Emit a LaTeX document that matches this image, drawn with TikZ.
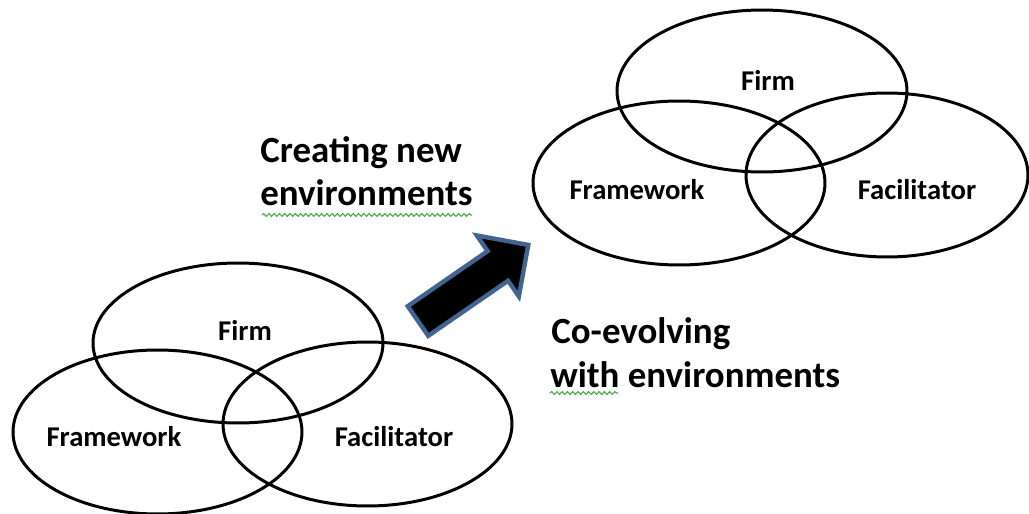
\documentclass[tikz,border=0pt]{standalone}
\usepackage{fontspec}
\setmainfont{Carlito}
\usepackage{tikz}
\usetikzlibrary{shapes.geometric,positioning,calc,decorations.pathmorphing}
\definecolor{arrowedge}{RGB}{65,100,145}
\definecolor{spellgreen}{RGB}{60,170,60}

\begin{document}
\begin{tikzpicture}[x=0.02cm, y=-0.02cm,
 set/.style={draw, ellipse, line width=1.7pt, inner sep=0pt, outer sep=0pt},
 setlabel/.style={font=\bfseries\fontsize{16.3}{19}\selectfont, inner sep=0pt},
 caption/.style={font=\bfseries\fontsize{21}{25}\selectfont, anchor=base west, inner sep=0pt},
 squiggle/.style={spellgreen, line width=0.6pt, decorate,
   decoration={snake, amplitude=0.8pt, segment length=3pt}},
 bigarrow/.style={fill=black, draw=arrowedge, line width=2.5pt, line join=miter}]
\useasboundingbox (0,0) rectangle (1029,514);
% lower venn
\node[set, minimum width=5.8cm, minimum height=3.2cm] (firmA) at (238,343) {};
\node[set, minimum width=5.78cm, minimum height=3.28cm] (frameA) at (157.5,432) {};
\node[set, minimum width=5.78cm, minimum height=3.28cm] (facilA) at (367.5,424) {};
\node[setlabel] (firmAl) at (245,330) {Firm};
\node[setlabel] (frameAl) at (114,437) {Framework};
\node[setlabel] (facilAl) at (394,437) {Facilitator};
% upper venn
\node[set, minimum width=5.8cm, minimum height=3.24cm] (firmB) at (762,91) {};
\node[set, minimum width=5.84cm, minimum height=3.28cm] (frameB) at (679,183) {};
\node[set, minimum width=5.64cm, minimum height=3.28cm] (facilB) at (887,175) {};
\node[setlabel] (firmBl) at (768,80) {Firm};
\node[setlabel] (frameBl) at (637,190) {Framework};
\node[setlabel] (facilBl) at (917,190) {Facilitator};
% captions
\node[caption] (create1) at (260,162) {Creating new};
\node[caption] (create2) at (260,205) {environments};
\node[caption] (coevo1) at (551,343) {Co-evolving};
\node[caption] (coevo2) at (550,387) {with environments};
\draw[squiggle] ($(create2.base west)+(2,10)$) -- ++(210,0);
\draw[squiggle] ($(coevo2.base west)+(0,6)$) -- ++(68,0);
% arrow
\begin{scope}[shift={(418,321)}, rotate=34.6]
\draw[bigarrow] (0,-18) -- (97,-18) -- (97,-37) -- (134,0) -- (97,37) -- (97,18) -- (0,18) -- cycle;
\end{scope}
\end{tikzpicture}
\end{document}
